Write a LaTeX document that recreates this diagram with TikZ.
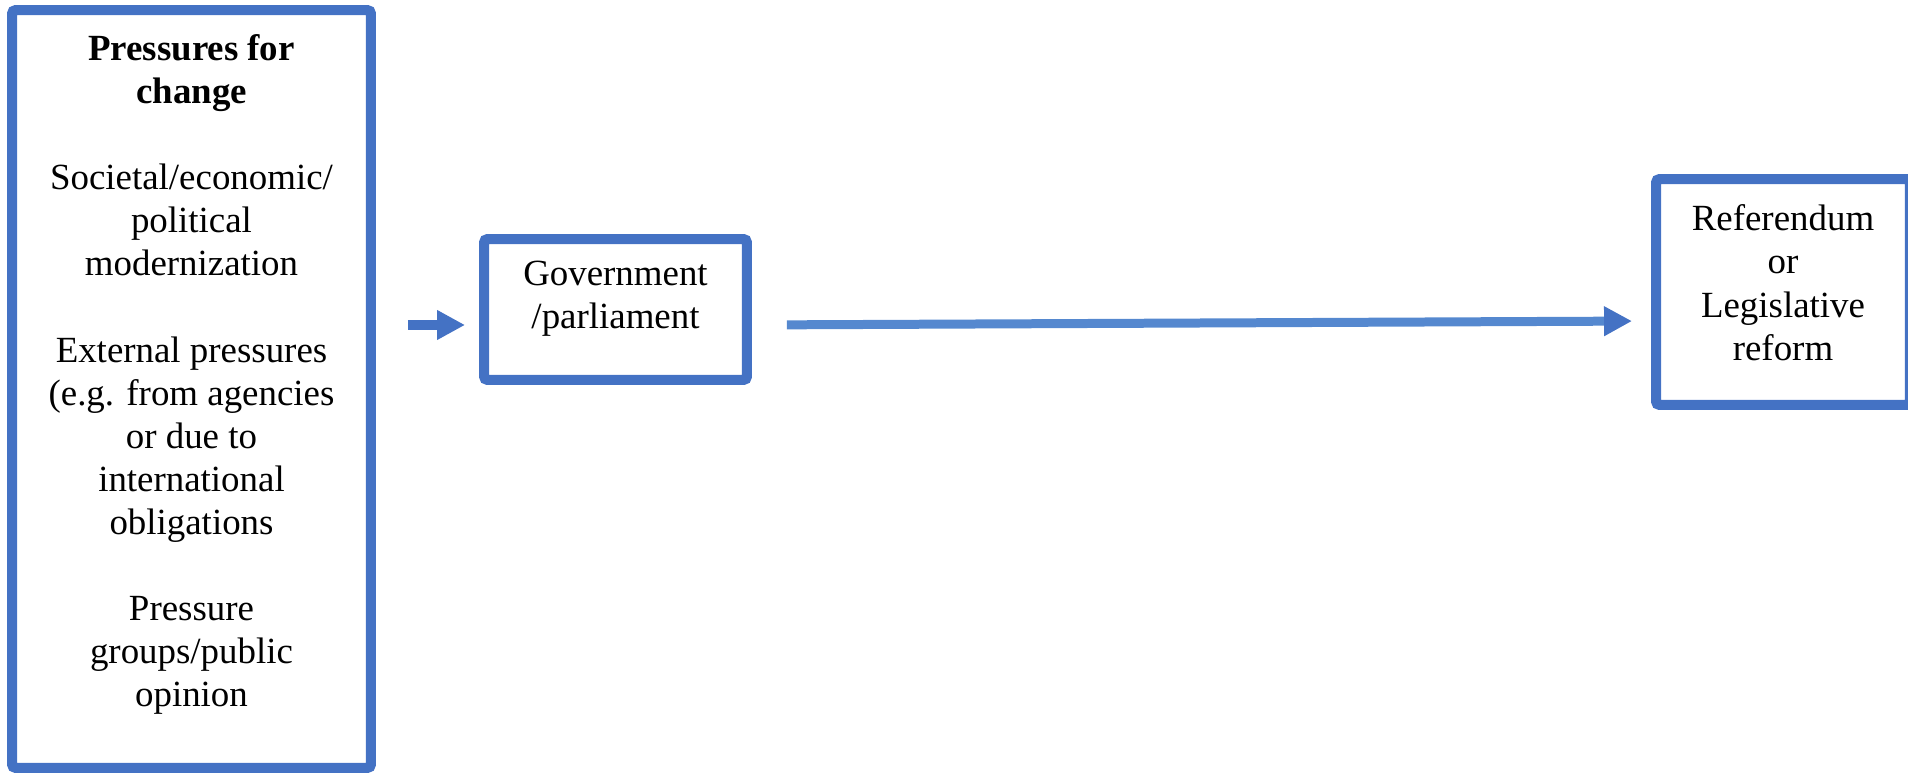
\documentclass[tikz,border=0pt]{standalone}
\usepackage{fontspec}
\setmainfont{Liberation Serif}
\usetikzlibrary{arrows.meta,positioning,calc}
\definecolor{boxblue}{HTML}{4472C4}
\definecolor{shaftblue}{HTML}{5588CF}

\begin{document}
\begin{tikzpicture}[x=0.02cm, y=-0.02cm,
        stage/.style={draw=boxblue, line width=0.2cm, rounded corners=2pt, align=center,
            inner sep=0pt, font=\fontsize{21pt}{24.5pt}\selectfont},
        flow/.style={line width=0.2cm, boxblue,
            -{Triangle[length=0.56cm, width=0.56cm, color=boxblue]}}]
        \useasboundingbox (0,0) rectangle (1908,773);

        % Pressures
        \node[stage, minimum width=7.18cm, minimum height=15.16cm, text depth=21pt] (pressures) at (191.5, 389)
            {\textbf{Pressures for}\\\textbf{change}\\[24.5pt]
             Societal/economic/\\political\\modernization\\[24.5pt]
             External pressures\\(e.g. from agencies\\or due to\\international\\obligations\\[24.5pt]
             Pressure\\groups/public\\opinion};

        % Government
        \node[stage, minimum width=5.26cm, minimum height=2.82cm, text depth=16.6pt] (govt) at (615.5, 309.5)
            {Government\\/parliament};

        % Outcome
        \node[stage, minimum width=5.08cm, minimum height=4.52cm, text depth=10.8pt] (reform) at (1783, 292)
            {Referendum\\or\\Legislative\\reform};

        % Arrows
        \draw[flow, shorten <=0.64cm, shorten >=0.28cm]
            ([yshift=-0.31cm]govt.west -| pressures.east) -- ([yshift=-0.31cm]govt.west);
        \draw[flow, shaftblue, line width=0.18cm, shorten <=0.7cm, shorten >=0.38cm]
            ([yshift=-0.31cm]govt.east) -- ([yshift=-0.58cm]reform.west);
\end{tikzpicture}
\end{document}
